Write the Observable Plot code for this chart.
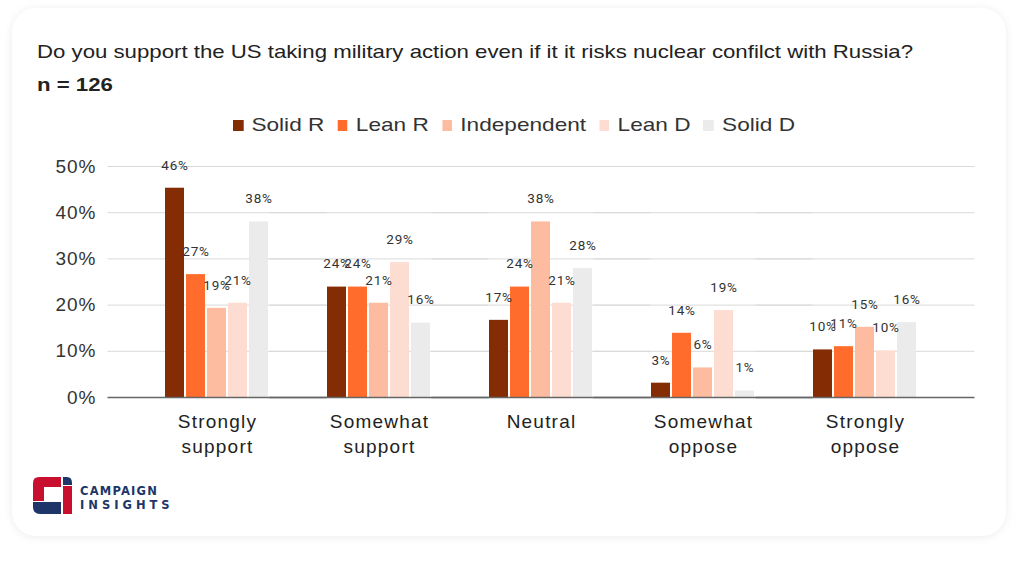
<!DOCTYPE html>
<html>
<head>
<meta charset="utf-8">
<script src="https://cdn.jsdelivr.net/npm/d3@7"></script>
<script src="https://cdn.jsdelivr.net/npm/@observablehq/plot@0.6"></script>
<style>
  html, body { margin: 0; padding: 0; background: #ffffff; width: 1024px; height: 562px; overflow: hidden; }
  #card { position: absolute; left: 12px; top: 8px; width: 994px; height: 528px; border-radius: 24px; background: #fff;
          box-shadow: 0 1px 10px rgba(0,0,0,0.08); }
  #title { position: absolute; left: 37px; top: 41px; font: 18.5px "Liberation Sans", Arial, sans-serif; color: #222; white-space: nowrap;
           transform: scaleX(1.2); transform-origin: 0 0; }
  #n { position: absolute; left: 37px; top: 74px; font: bold 18.5px "Liberation Sans", Arial, sans-serif; color: #222;
       transform: scaleX(1.2); transform-origin: 0 0; }
  #legend { position: absolute; left: 233px; top: 114px; display: flex; gap: 11px; white-space: nowrap;
            font: 19px "Liberation Sans", Arial, sans-serif; color: #333; transform: scaleX(1.19); transform-origin: 0 0; }
  #legend .item { display: flex; align-items: center; gap: 7px; }
  #legend .sw { width: 8.5px; height: 11px; display: inline-block; }
  #chart { position: absolute; left: 0; top: 140px; }
  #chart g[aria-label="y-axis tick label"] text { letter-spacing: 1px; }
  #chart g[aria-label="fx-axis tick label"] text { letter-spacing: 1.2px; }
  #chart g[aria-label="text"] text { letter-spacing: 0.8px; }
  #logo { position: absolute; left: 33px; top: 477px; }
  #logotext { position: absolute; left: 80px; top: 484px; font-family: "DejaVu Sans", sans-serif; font-weight: bold; color: #1d3568; }
  #logotext div { font-size: 11.5px; line-height: 14px; }
</style>
</head>
<body>
<div id="card"></div>
<div id="title">Do you support the US taking military action even if it it risks nuclear confilct with Russia?</div>
<div id="n">n = 126</div>
<div id="legend"></div>
<div id="chart"></div>
<svg id="logo" width="40" height="38" viewBox="0 0 40 38">
  <path d="M6 0 H28 V10 H11 V24 H0 V6 Q0 0 6 0 Z" fill="#c8102e"/>
  <path d="M0 25 H28 V37 H8 Q0 37 0 30 Z" fill="#1d3568"/>
  <path d="M30 0 H34 Q39 0 39 6 V8 H30 Z" fill="#1d3568"/>
  <path d="M30 9 H39 V37 H30 Z" fill="#c8102e"/>
</svg>
<div id="logotext"><div style="letter-spacing:1.2px">CAMPAIGN</div><div style="letter-spacing:4px">INSIGHTS</div></div>
<script>
// ---- data ----
const categories = ["Strongly\nsupport", "Somewhat\nsupport", "Neutral", "Somewhat\noppose", "Strongly\noppose"];
const parties = ["Solid R", "Lean R", "Independent", "Lean D", "Solid D"];
const colors = ["#842c04", "#ff6c2c", "#fdbc9f", "#fddcd1", "#ecebec"];
const solidR = [45.3, 23.9, 16.7, 3.1, 10.3];
const leanR = [26.6, 23.9, 23.9, 13.9, 11.0];
const independent = [19.3, 20.4, 38.0, 6.4, 15.2];
const leanD = [20.4, 29.2, 20.4, 18.8, 10.1];
const solidD = [38.0, 16.1, 27.9, 1.4, 16.2];
const solidRLabels = [46, 24, 17, 3, 10];
const leanRLabels = [27, 24, 24, 14, 11];
const independentLabels = [19, 21, 38, 6, 15];
const leanDLabels = [21, 29, 21, 19, 10];
const solidDLabels = [38, 16, 28, 1, 16];
const yTicks = [0, 10, 20, 30, 40, 50];

const series = [solidR, leanR, independent, leanD, solidD];
const seriesLabels = [solidRLabels, leanRLabels, independentLabels, leanDLabels, solidDLabels];
const rows = [];
parties.forEach((p, i) => categories.forEach((c, j) => {
  rows.push({category: c, party: p, value: series[i][j], label: seriesLabels[i][j] + "%"});
}));

// legend
const legend = document.getElementById("legend");
parties.forEach((p, i) => {
  const it = document.createElement("span");
  it.className = "item";
  it.innerHTML = `<span class="sw" style="background:${colors[i]}"></span><span>${p}</span>`;
  legend.appendChild(it);
});

const chart = Plot.plot({
  width: 1024,
  height: 332,
  marginLeft: 105,
  marginRight: 47,
  marginTop: 26,
  marginBottom: 75,
  style: {fontFamily: "'Liberation Sans', Arial, sans-serif", fontSize: "19px", color: "#333", background: "transparent"},
  fx: {domain: categories, paddingInner: 0, paddingOuter: 0.175, axis: null},
  x: {domain: parties, paddingInner: 0.09, paddingOuter: 1.4, axis: null},
  y: {domain: [0, 50], axis: null},
  color: {domain: parties, range: colors},
  marks: [
    Plot.ruleY(yTicks.filter(d => d > 0), {stroke: "#d9d9d9", strokeWidth: 1, insetLeft: -28.5, insetRight: -28.5}),
    Plot.barY(rows, {fx: "category", x: "party", y: "value", fill: "party"}),
    Plot.ruleY([0], {stroke: "#666", strokeWidth: 1.5, insetLeft: -28.5, insetRight: -28.5}),
    Plot.text(rows, {fx: "category", x: "party", y: "value", text: "label", dy: -23,
      fontSize: 13.5, fontFamily: "Roboto, sans-serif", fill: "#333"}),
    Plot.axisY({ticks: yTicks, tickSize: 0, tickPadding: 40, tickFormat: d => d + "%", label: null, fill: "#333"}),
    Plot.axisFx({anchor: "bottom", tickSize: 0, tickPadding: 13, lineHeight: 1.32, label: null, fill: "#222"})
  ]
});
document.getElementById("chart").appendChild(chart);
</script>
</body>
</html>
